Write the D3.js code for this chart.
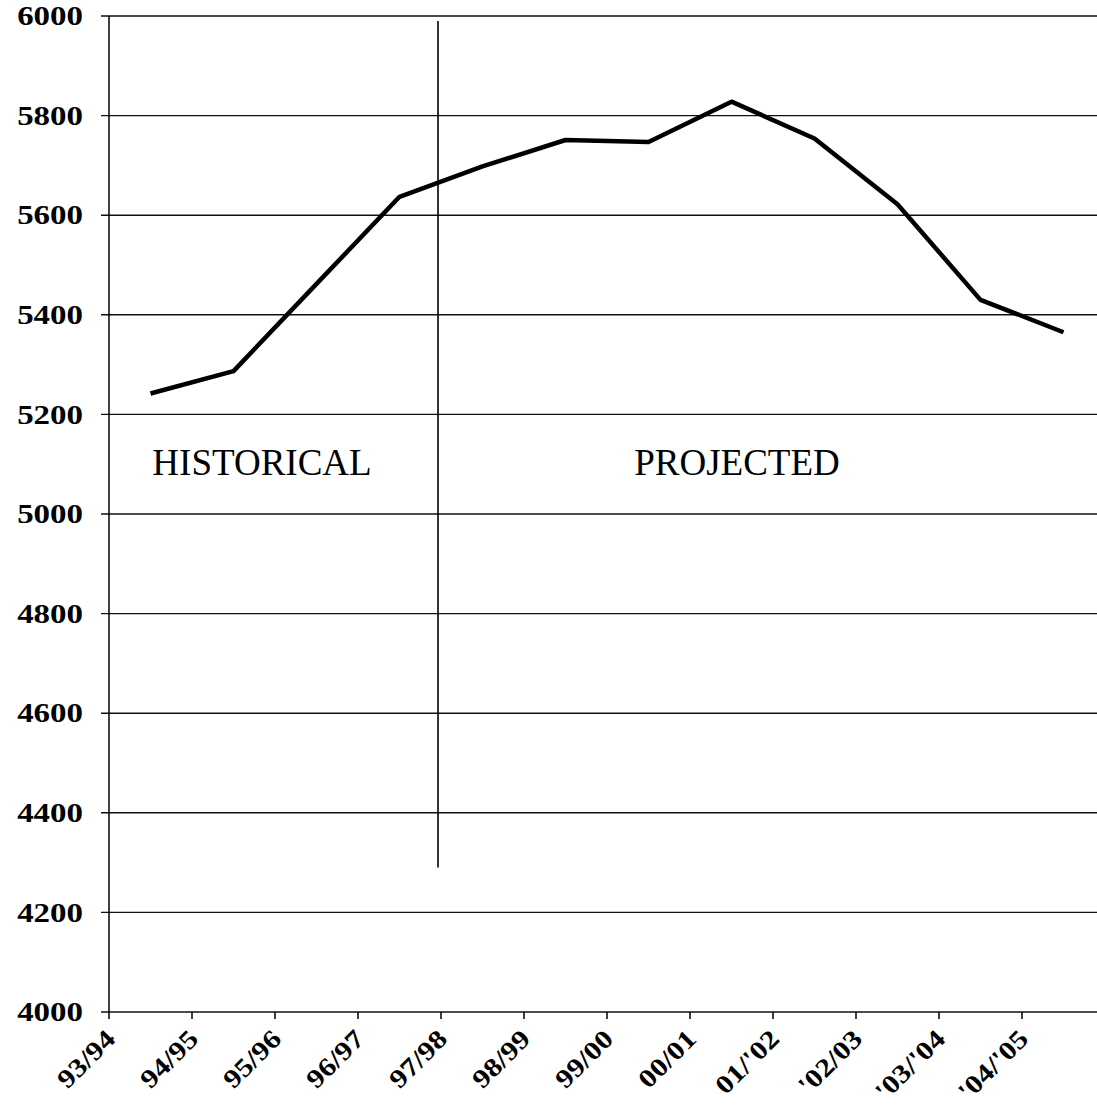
<!DOCTYPE html>
<html>
<head>
<meta charset="utf-8">
<script src="https://cdn.jsdelivr.net/npm/d3@7"></script>
<style>
  body { margin: 0; background: #fff; }
  svg { display: block; }
</style>
</head>
<body>
<div class="chart"></div>
<script>
// categories and values
const years = ['93/94', '94/95', '95/96', '96/97', '97/98', '98/99', '99/00', '00/01', "01/'02", "'02/03", "'03/'04", "'04/'05"]
const enrollment = [5242, 5287, 5462, 5637, 5698, 5751, 5747, 5828, 5754, 5622, 5430, 5365]
const yTicks = [4000, 4200, 4400, 4600, 4800, 5000, 5200, 5400, 5600, 5800, 6000]
const periods = ['HISTORICAL', 'PROJECTED']

const width = 1097
const height = 1106
const margin = { top: 16, left: 109, bottom: 94 }
const serif = 'Liberation Serif, Times New Roman, serif'

const svg = d3.select('.chart')
  .append('svg')
  .attr('width', width)
  .attr('height', height)

const x = d3.scaleBand()
  .domain(years)
  .range([margin.left, margin.left + 83 * years.length])
  .padding(0)

const y = d3.scaleLinear()
  .domain([4000, 6000])
  .range([height - margin.bottom, margin.top])

// horizontal gridlines
svg.append('g')
  .selectAll('line')
  .data(yTicks)
  .enter()
  .append('line')
  .attr('x1', margin.left - 8)
  .attr('x2', width)
  .attr('y1', d => y(d))
  .attr('y2', d => y(d))
  .attr('stroke', '#111')
  .attr('stroke-width', 1.4)

// y labels (the scan has wide bold digits, so stretch them a bit)
svg.append('g')
  .selectAll('text')
  .data(yTicks)
  .enter()
  .append('text')
  .attr('transform', d => `translate(83, ${y(d)}) scale(1.22, 1)`)
  .attr('dy', '0.34em')
  .attr('text-anchor', 'end')
  .attr('font-family', serif)
  .attr('font-weight', 'bold')
  .attr('font-size', 27)
  .text(d => d)

// y axis line
svg.append('line')
  .attr('x1', margin.left).attr('x2', margin.left)
  .attr('y1', y(6000)).attr('y2', y(4000))
  .attr('stroke', '#000')
  .attr('stroke-width', 1.5)

// x ticks at category boundaries
const bounds = years.map(d => x(d)).concat([x.range()[1]])
svg.append('g')
  .selectAll('line')
  .data(bounds)
  .enter()
  .append('line')
  .attr('x1', d => d).attr('x2', d => d)
  .attr('y1', y(4000)).attr('y2', y(4000) + 7)
  .attr('stroke', '#000')
  .attr('stroke-width', 1.5)

// x labels, rotated
svg.append('g')
  .selectAll('text')
  .data(years)
  .enter()
  .append('text')
  .attr('transform', d => `translate(${x(d) + x.bandwidth() / 2 - 40}, ${y(4000) + 22}) rotate(-45) scale(1.18, 1)`)
  .attr('text-anchor', 'end')
  .attr('dy', '0.35em')
  .attr('font-family', serif)
  .attr('font-weight', 'bold')
  .attr('font-size', 26)
  .text(d => d)

// divider between historical and projected
svg.append('line')
  .attr('x1', x('97/98') - 3).attr('x2', x('97/98') - 3)
  .attr('y1', y(5990)).attr('y2', y(4290))
  .attr('stroke', '#000')
  .attr('stroke-width', 1.6)

// period labels
svg.append('g')
  .selectAll('text')
  .data(periods)
  .enter()
  .append('text')
  .attr('x', (d, i) => i === 0 ? x('94/95') + 70 : x('99/00') + 130)
  .attr('y', y(5078))
  .attr('text-anchor', 'middle')
  .attr('font-family', serif)
  .attr('font-size', 37)
  .text(d => d)

// the line
const line = d3.line()
  .x((d, i) => x(years[i]) + x.bandwidth() / 2)
  .y(d => y(d))

svg.append('path')
  .datum(enrollment)
  .attr('d', line)
  .attr('fill', 'none')
  .attr('stroke', '#000')
  .attr('stroke-width', 4.5)
  .attr('stroke-linejoin', 'round')
</script>
</body>
</html>
